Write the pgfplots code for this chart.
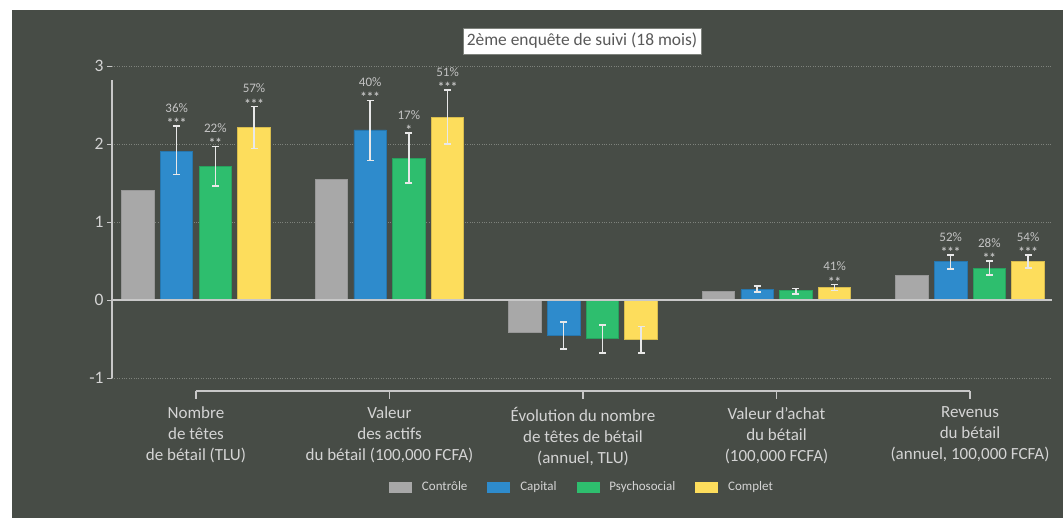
\documentclass[border=0pt]{standalone}
\usepackage{pgfplots}
\usepackage{pgfplotstable}
\pgfplotsset{compat=1.18}
\usepackage{fontspec}
\setmainfont{Carlito}
\definecolor{bg}{HTML}{474C46}
\definecolor{txt}{HTML}{D4D4D4}
\definecolor{anc}{HTML}{C4C4C4}
\definecolor{cgray}{HTML}{A8A8A8}
\definecolor{cblue}{HTML}{2E8BCC}
\definecolor{cgreen}{HTML}{2EBE6E}
\definecolor{cyellow}{HTML}{FDDD5C}
\definecolor{gridc}{HTML}{7E827C}
\definecolor{axc}{HTML}{C8C8C8}
\definecolor{errc}{HTML}{E8E8E8}

\pgfplotstableread{
x y
0 1.40
1 1.55
2 -0.41
3 0.11
4 0.32
}\ctrl
\pgfplotstableread{
x y ep em
0 1.91 0.32 0.30
1 2.18 0.38 0.39
2 -0.45 0.17 0.18
3 0.13 0.05 0.03
4 0.49 0.09 0.09
}\capital
\pgfplotstableread{
x y ep em
0 1.71 0.26 0.25
1 1.82 0.32 0.32
2 -0.49 0.17 0.19
3 0.12 0.03 0.04
4 0.41 0.09 0.09
}\psycho
\pgfplotstableread{
x y ep em
0 2.21 0.27 0.27
1 2.34 0.35 0.34
2 -0.51 0.17 0.17
3 0.16 0.04 0.04
4 0.49 0.09 0.08
}\complet

\newcommand{\ann}[4]{%
  \node[font=\fontsize{13}{14}\selectfont, text=anc, inner sep=0pt, anchor=center, yshift=18pt] at (axis cs:#1,#2) {#3};
  \node[font=\fontsize{13}{14}\selectfont\bfseries, text=anc, inner sep=0pt, anchor=center, yshift=3pt] at (axis cs:#1,#2) {#4};
}
\pgfplotsset{myerr/.style={error bars/.cd, y dir=both, y explicit,
  error bar style={errc, line width=1.5pt},
  error mark options={rotate=90, errc, mark size=3.5pt, line width=1.5pt}}}

\begin{document}
\begin{tikzpicture}
\begin{axis}[
  set layers,
  scale only axis, width=940pt, height=312pt,
  xmin=-0.434, xmax=4.424, ymin=-1, ymax=3,
  clip=false,
  axis line style={draw=none},
  ybar=6.2pt, bar width=32.5pt,
  ytick={-1,0,1,2,3}, yticklabels={-1,0,1,2,3},
  ytick pos=left, xtick pos=bottom,
  tick align=outside, major tick length=5pt,
  ytick style={axc, line width=1pt},
  xtick style={draw=none},
  yticklabel style={text=txt, font=\fontsize{17.5}{18}\selectfont},
  ymajorgrids, grid style={gridc, dotted, line width=1pt},
  xtick={0,1,2,3,4},
  xticklabels={{Nombre\\de têtes\\de bétail (TLU)},{Valeur\\des actifs\\du bétail (100,000 FCFA)},{Évolution du nombre\\de têtes de bétail\\(annuel, TLU)},{Valeur d'achat\\du bétail\\(100,000 FCFA)},{Revenus\\du bétail\\(annuel, 100,000 FCFA)}},
  xticklabel style={text=txt, font=\fontsize{17}{21}\selectfont, align=center, anchor=north, yshift=-20.5pt},
  legend style={at={(0.5,-0.349)}, anchor=center, draw=none, fill=none, legend columns=4,
    font=\fontsize{13}{14}\selectfont, text=txt,
    /tikz/every odd column/.append style={column sep=8pt},
    /tikz/every even column/.append style={column sep=18pt}},
]
\begin{pgfonlayer}{axis background}
\fill[white] (axis cs:-1.0129,3.8462) rectangle (axis cs:4.4806,-2.7949);
\fill[bg] (axis cs:-0.9509,3.7179) rectangle (axis cs:4.4806,-2.7949);
\end{pgfonlayer}
\addplot[fill=cgray, draw=cgray!90!black, line width=0.8pt, legend image code/.code={\fill[cgray] (0pt,-5pt) rectangle (22pt,5pt);}] table[x=x,y=y] {\ctrl};
\addplot[fill=cblue, draw=cblue!85!black, line width=0.8pt, legend image code/.code={\fill[cblue] (0pt,-5pt) rectangle (22pt,5pt);},
  myerr] table[x=x,y=y,y error plus=ep,y error minus=em] {\capital};
\addplot[fill=cgreen, draw=cgreen!85!black, line width=0.8pt, legend image code/.code={\fill[cgreen] (0pt,-5pt) rectangle (22pt,5pt);},
  myerr] table[x=x,y=y,y error plus=ep,y error minus=em] {\psycho};
\addplot[fill=cyellow, draw=cyellow!85!black, line width=0.8pt, legend image code/.code={\fill[cyellow] (0pt,-5pt) rectangle (22pt,5pt);},
  myerr] table[x=x,y=y,y error plus=ep,y error minus=em] {\complet};
\legend{Contrôle,Capital,Psychosocial,Complet}
% zero line and axes
\draw[axc, line width=2pt] (axis cs:-0.434,0) -- (axis cs:4.424,0);
\draw[axc, line width=1.5pt] (axis cs:-0.434,-1) -- (axis cs:-0.434,2.82);
\draw[axc, line width=1.5pt] (axis cs:0,-1.167) -- (axis cs:4,-1.167);
\pgfplotsinvokeforeach{0,1,2,3,4}{\draw[axc, line width=1.2pt] (axis cs:#1,-1.167) -- ++(0pt,-8pt);}
% annotations
\ann{-0.1}{2.23}{36\%}{***}
\ann{0.1}{1.97}{22\%}{**}
\ann{0.3}{2.48}{57\%}{***}
\ann{0.9}{2.56}{40\%}{***}
\ann{1.1}{2.14}{17\%}{*}
\ann{1.3}{2.69}{51\%}{***}
\ann{3.3}{0.20}{41\%}{**}
\ann{3.9}{0.58}{52\%}{***}
\ann{4.1}{0.50}{28\%}{**}
\ann{4.3}{0.58}{54\%}{***}
\node[fill=white, draw=gridc, line width=0.5pt, text=black!65, font=\fontsize{17.4}{18}\selectfont, minimum width=238pt, minimum height=26pt, inner sep=0pt] at (axis cs:1.9948,3.3205) {2ème enquête de suivi (18 mois)};
\end{axis}
\end{tikzpicture}
\end{document}
